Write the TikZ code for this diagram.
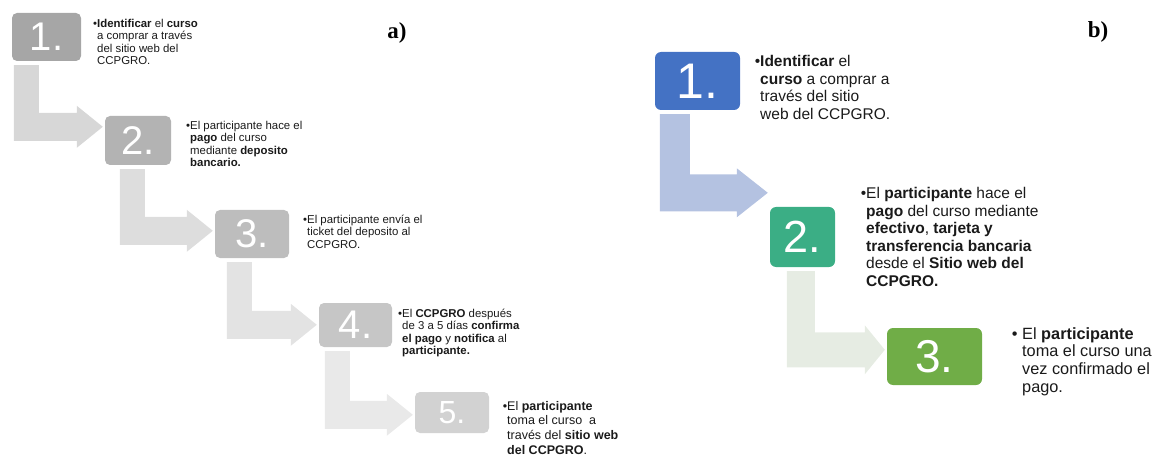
\documentclass[tikz,border=0pt]{standalone}
\usepackage{fontspec}
\setmainfont{Liberation Sans}
\newfontfamily\labelfont{Liberation Serif}
\usetikzlibrary{calc}
\definecolor{ga1}{HTML}{A6A6A6}
\definecolor{ga2}{HTML}{B3B3B3}
\definecolor{ga3}{HTML}{BDBDBD}
\definecolor{ga4}{HTML}{C6C6C6}
\definecolor{ga5}{HTML}{D2D2D2}
\definecolor{aa1}{HTML}{D7D7D7}
\definecolor{aa2}{HTML}{DDDDDD}
\definecolor{aa3}{HTML}{E3E3E3}
\definecolor{aa4}{HTML}{E9E9E9}
\definecolor{bb1}{HTML}{4472C4}
\definecolor{bb2}{HTML}{3BAE85}
\definecolor{bb3}{HTML}{70AD47}
\definecolor{ab1}{HTML}{B4C2E1}
\definecolor{ab2}{HTML}{E6ECE3}
\definecolor{txt}{HTML}{1A1A1A}
% #1 style, #2 from, #3 to, #4 x offset, #5 bar width, #6 bar thickness,
% #7 head extra, #8 head length, #9 tip y offset below to.north
\newcommand{\bendarrow}[9]{%
  \fill[#1] let \p1=(#2.south west), \p2=(#3.north west) in
    (\x1+#4pt,\y1-4pt) -- (\x1+#4pt+#5pt,\y1-4pt)
    -- (\x1+#4pt+#5pt,\y2-#9pt+#6pt/2)
    -- (\x2-2pt-#8pt,\y2-#9pt+#6pt/2)
    -- (\x2-2pt-#8pt,\y2-#9pt+#6pt/2+#7pt)
    -- (\x2-2pt,\y2-#9pt)
    -- (\x2-2pt-#8pt,\y2-#9pt-#6pt/2-#7pt)
    -- (\x2-2pt-#8pt,\y2-#9pt-#6pt/2)
    -- (\x1+#4pt,\y2-#9pt-#6pt/2) -- cycle;}
\tikzset{
  stepbox/.style={rounded corners=5pt, inner sep=0pt, text=white, align=center},
  numa/.style={font=\fontsize{40}{40}\selectfont},
  desca/.style={anchor=north west, inner sep=0pt, align=left, text=txt,
    font=\fontsize{11.4}{12.3}\selectfont},
  descb/.style={anchor=north west, inner sep=0pt, align=left, text=txt,
    font=\fontsize{15.5}{17.6}\selectfont},
  panellabel/.style={inner sep=0pt, font=\labelfont\bfseries\fontsize{23}{23}\selectfont}
}
\begin{document}
\begin{tikzpicture}[x=1pt,y=-1pt]
\useasboundingbox (0,0) rectangle (1167,457);
% ---------- panel a ----------
\node[stepbox, numa, fill=ga1, minimum width=69pt, minimum height=48pt] (a1) at (46.5,37) {1.};
\node[stepbox, numa, fill=ga2, minimum width=66pt, minimum height=49pt] (a2) at (138,140.5) {2.};
\node[stepbox, numa, fill=ga3, minimum width=74pt, minimum height=48pt] (a3) at (252,234) {3.};
\node[stepbox, numa, fill=ga4, minimum width=73pt, minimum height=44pt] (a4) at (355.5,325) {4.};
\node[stepbox, fill=ga5, minimum width=74pt, minimum height=41pt,
      font=\fontsize{32}{32}\selectfont] (a5) at (452,412.5) {5.};

\bendarrow{aa1}{a1}{a2}{2}{25}{28}{7}{26}{11}
\bendarrow{aa2}{a2}{a3}{15}{25}{28}{7}{26}{21}
\bendarrow{aa3}{a3}{a4}{12}{25}{28}{7}{26}{22}
\bendarrow{aa4}{a4}{a5}{6}{25}{28}{7}{26}{23}

\node[desca] (ta1) at (97,19) {\llap{•}\textbf{Identificar} el \textbf{curso}\\a comprar a través\\del sitio web del\\CCPGRO.};
\node[desca] (ta2) at (190,121) {\llap{•}El participante hace el\\\textbf{pago} del curso\\mediante \textbf{deposito}\\\textbf{bancario.}};
\node[desca] (ta3) at (307,215) {\llap{•}El participante envía el\\ticket del deposito al\\CCPGRO.};
\node[desca] (ta4) at (402,309) {\llap{•}El \textbf{CCPGRO} después\\de 3 a 5 días \textbf{confirma}\\\textbf{el pago} y \textbf{notifica} al\\\textbf{participante.}};
\node[desca, font=\fontsize{12.5}{14.6}\selectfont] (ta5) at (507,401) {\llap{•}El \textbf{participante}\\toma el curso\ \ a\\través del \textbf{sitio web}\\\textbf{del CCPGRO}.};

\node[panellabel] (la) at (397,33) {a)};
% ---------- panel b ----------
\node[stepbox, fill=bb1, minimum width=85pt, minimum height=58pt,
      font=\fontsize{50}{50}\selectfont, rounded corners=6pt] (b1) at (697.5,81) {1.};
\node[stepbox, fill=bb2, minimum width=65pt, minimum height=60pt,
      font=\fontsize{45}{45}\selectfont, rounded corners=6pt] (b2) at (802.5,237) {2.};
\node[stepbox, fill=bb3, minimum width=95pt, minimum height=57pt,
      font=\fontsize{46}{46}\selectfont, rounded corners=6pt] (b3) at (934.5,356.5) {3.};

\bendarrow{ab1}{b1}{b2}{5}{30}{37}{6}{31}{-14}
\bendarrow{ab2}{b2}{b3}{17}{28}{35}{7}{20}{22}

\node[descb] (tb1) at (760,55) {\llap{•}\textbf{Identificar} el\\\textbf{curso} a comprar a\\través del sitio\\web del CCPGRO.};
\node[descb] (tb2) at (866,187) {\llap{•}El \textbf{participante} hace el\\\textbf{pago} del curso mediante\\\textbf{efectivo}, \textbf{tarjeta y}\\\textbf{transferencia bancaria}\\desde el \textbf{Sitio web del}\\\textbf{CCPGRO.}};
\node[descb, font=\fontsize{16.3}{17.8}\selectfont] (tb3) at (1022,327) {\llap{•\ }El \textbf{participante}\\toma el curso una\\vez confirmado el\\pago.};

\node[panellabel] (lb) at (1098,32) {b)};
\end{tikzpicture}
\end{document}
